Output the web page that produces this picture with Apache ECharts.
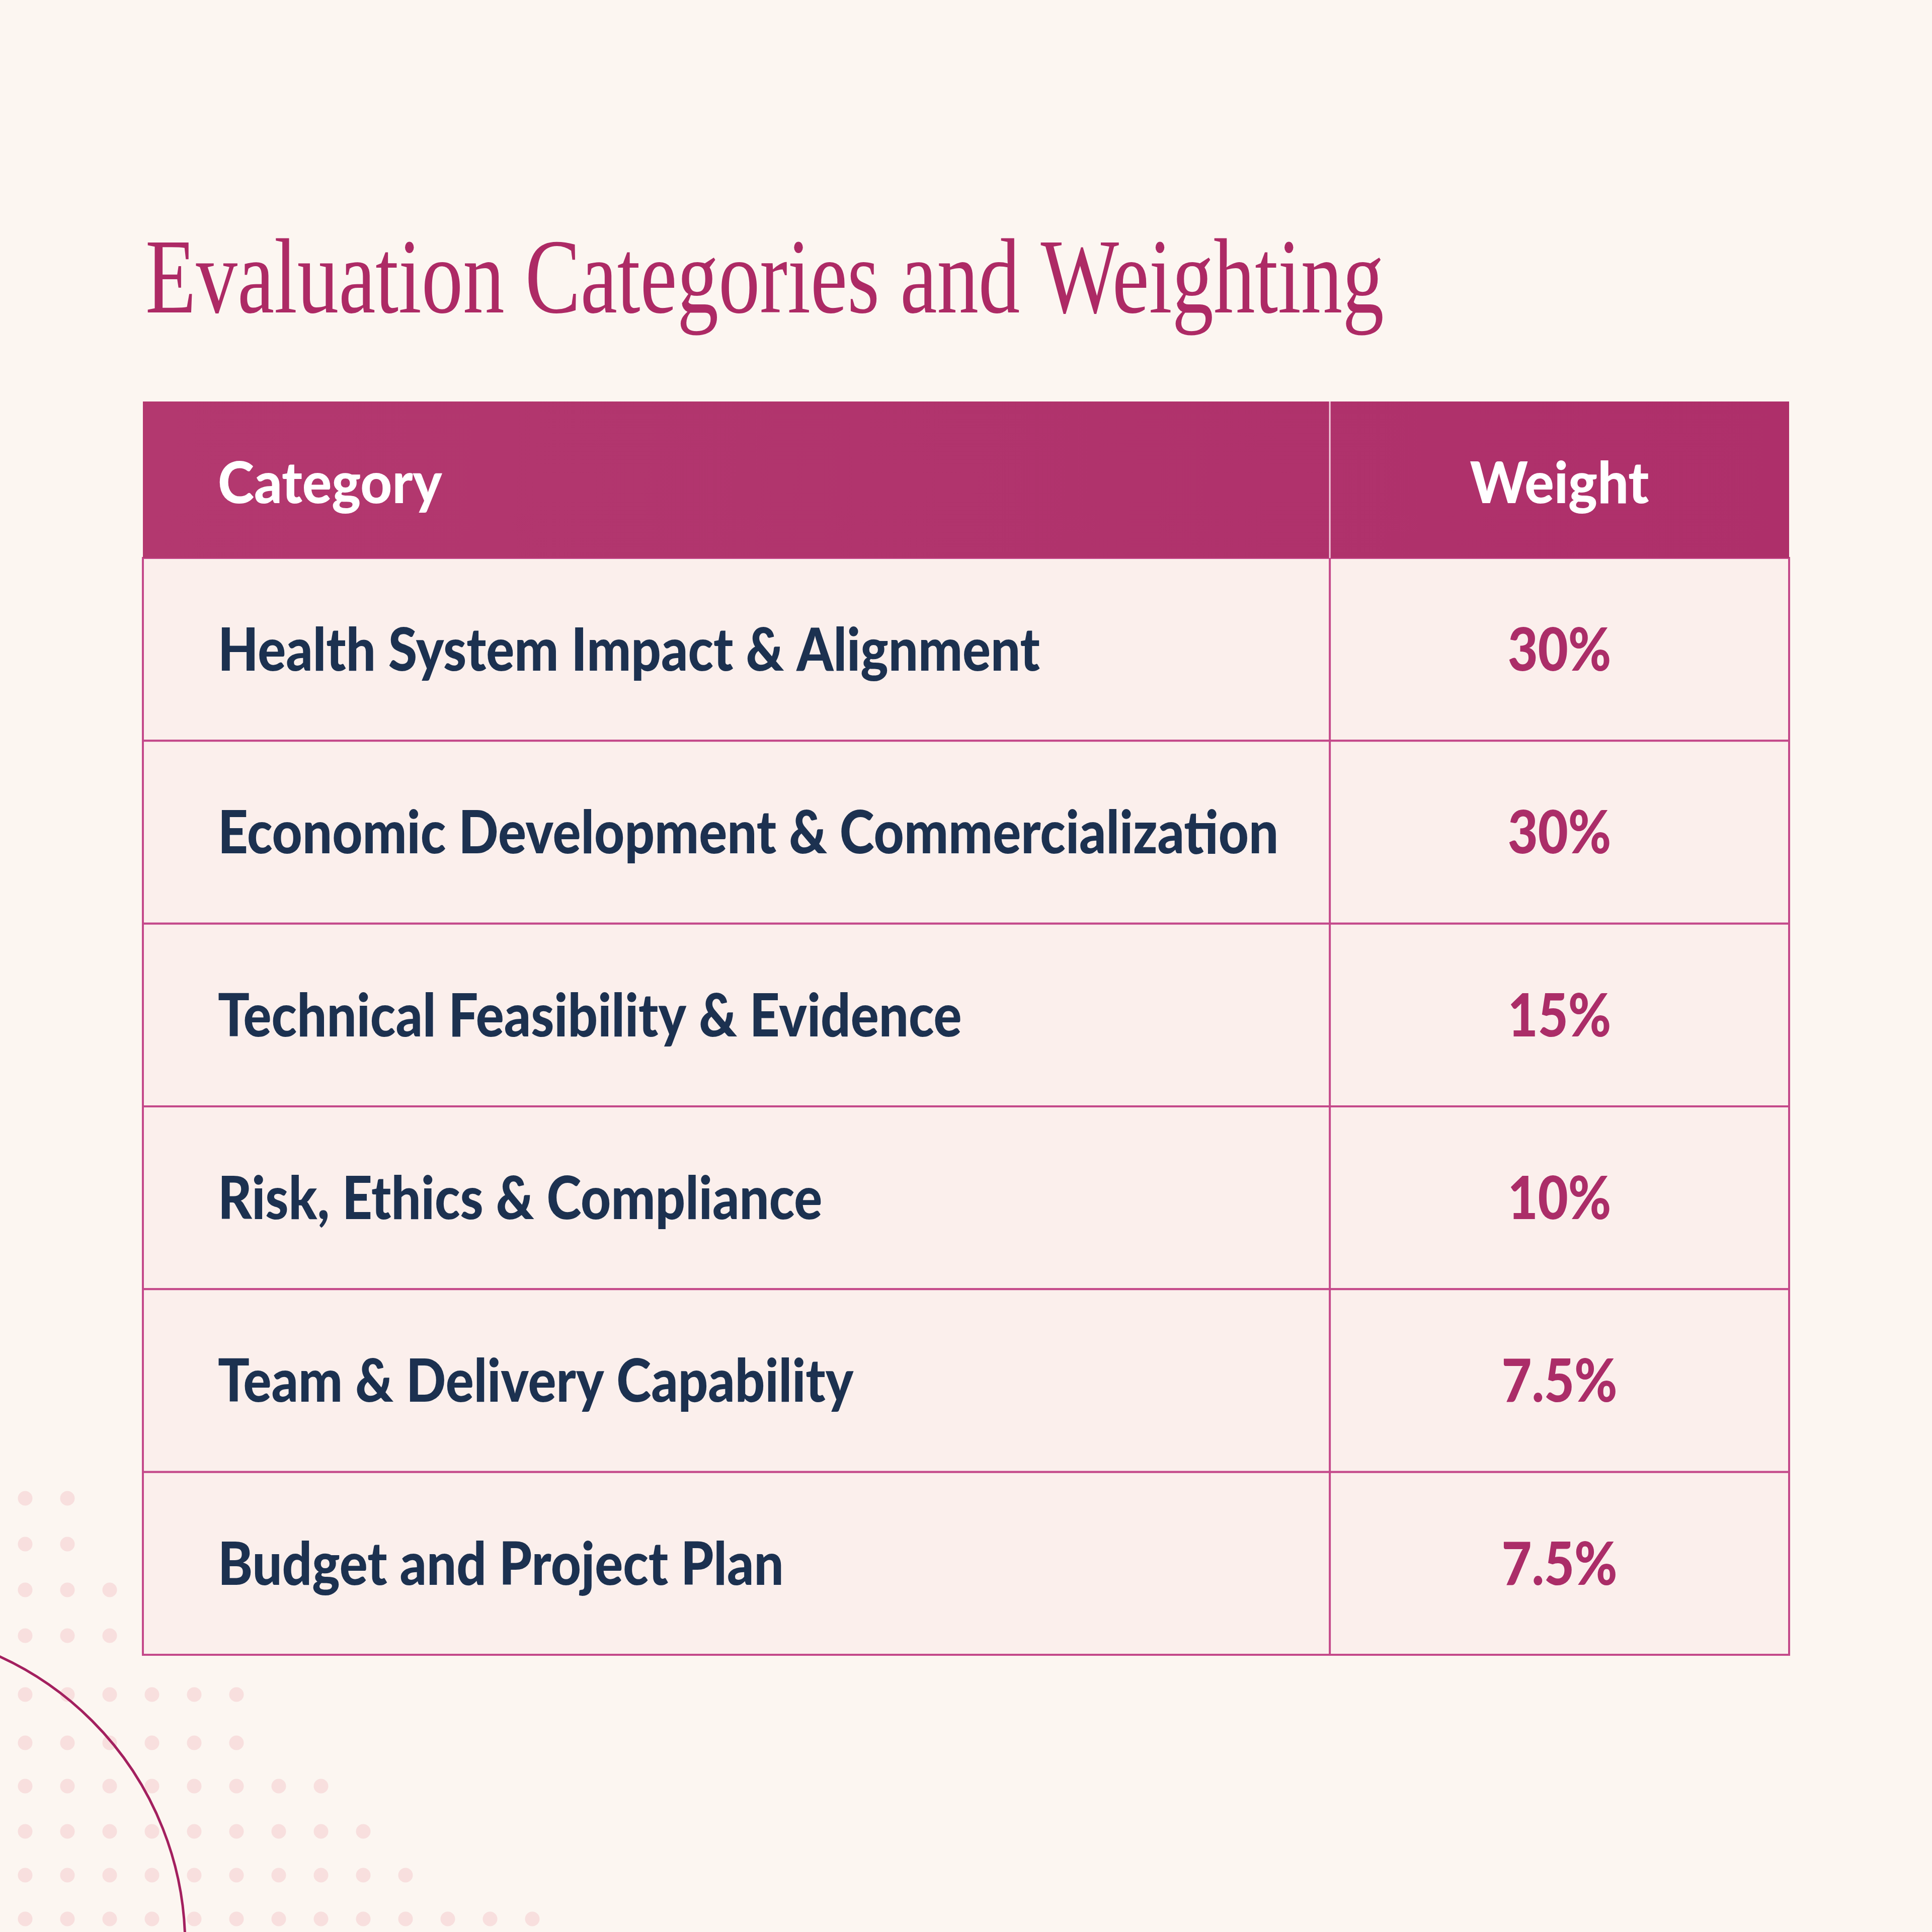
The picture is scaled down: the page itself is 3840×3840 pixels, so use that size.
<!DOCTYPE html>
<html><head><meta charset="utf-8">
<script src="https://cdn.jsdelivr.net/npm/echarts@6/dist/echarts.min.js"></script>
<style>html,body{margin:0;padding:0;background:#fcf6f1}#c{width:3840px;height:3840px}</style>
</head><body><div id="c"></div>
<script>
// ---- data ----
const titleText = 'Evaluation Categories and Weighting';
const headers = ['Category', 'Weight'];
const categories = [
  'Health System Impact & Alignment',
  'Economic Development & Commercialization',
  'Technical Feasibility & Evidence',
  'Risk, Ethics & Compliance',
  'Team & Delivery Capability',
  'Budget and Project Plan'
];
const weightLabels = ['30%', '30%', '15%', '10%', '7.5%', '7.5%'];
const weightValues = [30, 30, 15, 10, 7.5, 7.5];
// decorative dot pattern (bottom-left): row positions and dot counts
const dotRowY = [2978, 3069, 3160, 3251, 3368, 3464, 3550, 3640, 3727, 3814];
const dotRowCount = [2, 2, 3, 4, 6, 6, 8, 9, 10, 13];

// ---- style constants ----
const BG = '#fcf6f1';
const ROWFILL = '#fbefec';
const BORDER = '#c4498a';
const NAVY = '#1c3150';
const ACCENT = '#ab2d68';
const TITLE = '#ad2a65';
const COL_SPLIT = 72.1;           // % of table width where the weight column starts
const HEADER_ROWS = 0.856;         // header height in row units
const SANS = 'Lato';
const WEIGHT = 900;
const BODY_FS = 119, BODY_SX = 0.878, VAL_SX = 0.87;
const HEAD_FS = 114, HEAD_SX = 0.958;

const dotX0 = 50, dotDX = 84;
const dotData = [];
dotRowY.forEach((y, r) => { for (let k = 0; k < dotRowCount[r]; k++) dotData.push([dotX0 + dotDX * k, y]); });

const chart = echarts.init(document.getElementById('c'), null, {renderer: 'canvas', width: 3840, height: 3840});

const rowData = categories.map((c, i) => [i, weightValues[i], c, weightLabels[i]]);

function txt(text, x, y, fs, sx, color, align) {
  return {type: 'text', x: x, y: y, scaleX: sx, scaleY: 1,
    style: {text: text, x: 0, y: 0, fontFamily: SANS, fontWeight: WEIGHT, fontSize: fs, fill: color,
      align: align, verticalAlign: 'middle'}};
}

chart.setOption({
  backgroundColor: BG,
  animation: false,
  grid: [
    {left: 284, right: 284, top: 798, bottom: 551},
    {left: 0, top: 0, width: 3840, height: 3840}
  ],
  xAxis: [
    {gridIndex: 0, type: 'value', min: 0, max: 100, show: false},
    {gridIndex: 1, type: 'value', min: 0, max: 3840, show: false}
  ],
  yAxis: [
    {gridIndex: 0, type: 'value', min: -HEADER_ROWS, max: 6, inverse: true, show: false},
    {gridIndex: 1, type: 'value', min: 0, max: 3840, inverse: true, show: false}
  ],
  graphic: [
    {type: 'text', x: 289, y: 565, z: 10, scaleX: 0.777,
     style: {text: titleText, fontFamily: 'Liberation Serif', fontSize: 212, fill: TITLE, verticalAlign: 'middle', align: 'left'}},
    {type: 'circle', shape: {cx: -264, cy: 3867, r: 632}, z: 1,
     style: {fill: 'none', stroke: '#a3205f', lineWidth: 5}}
  ],
  series: [
    {
      type: 'scatter', xAxisIndex: 1, yAxisIndex: 1, data: dotData, symbolSize: 29, z: 0,
      itemStyle: {color: '#f6dad9'}, silent: true
    },
    {
      type: 'custom', xAxisIndex: 0, yAxisIndex: 0, z: 5, data: [[-HEADER_ROWS]],
      renderItem: function (params, api) {
        const tl = api.coord([0, -HEADER_ROWS]);
        const br = api.coord([100, 0]);
        const sp = api.coord([COL_SPLIT, 0]);
        const h = br[1] - tl[1];
        const cy = tl[1] + h / 2 + 10;
        return {type: 'group', children: [
          {type: 'rect', shape: {x: tl[0], y: tl[1], width: br[0] - tl[0], height: h},
           style: {fill: new echarts.graphic.LinearGradient(0, 0, 1, 1, [{offset: 0, color: '#b3386f'}, {offset: 1, color: '#ae2f6a'}])}},
          {type: 'line', shape: {x1: sp[0], y1: tl[1], x2: sp[0], y2: br[1]}, style: {stroke: 'rgba(255,235,242,0.85)', lineWidth: 3}},
          txt(headers[0], tl[0] + 149, cy, HEAD_FS, HEAD_SX, '#ffffff', 'left'),
          txt(headers[1], (sp[0] + br[0]) / 2, cy, HEAD_FS, HEAD_SX, '#ffffff', 'center')
        ]};
      }
    },
    {
      type: 'custom', xAxisIndex: 0, yAxisIndex: 0, z: 4, data: rowData,
      renderItem: function (params, api) {
        const i = api.value(0);
        const tl = api.coord([0, i]);
        const br = api.coord([100, i + 1]);
        const sp = api.coord([COL_SPLIT, i]);
        const h = br[1] - tl[1];
        const cy = tl[1] + h / 2 + 4;
        const d = rowData[params.dataIndex];
        return {type: 'group', children: [
          {type: 'rect', shape: {x: tl[0], y: tl[1], width: br[0] - tl[0], height: h},
           style: {fill: ROWFILL, stroke: BORDER, lineWidth: 4}},
          {type: 'line', shape: {x1: sp[0], y1: tl[1], x2: sp[0], y2: br[1]}, style: {stroke: BORDER, lineWidth: 4}},
          txt(d[2], tl[0] + 149, cy, BODY_FS, BODY_SX, NAVY, 'left'),
          txt(d[3], (sp[0] + br[0]) / 2, cy, BODY_FS, VAL_SX, ACCENT, 'center')
        ]};
      }
    }
  ]
});
</script></body></html>
